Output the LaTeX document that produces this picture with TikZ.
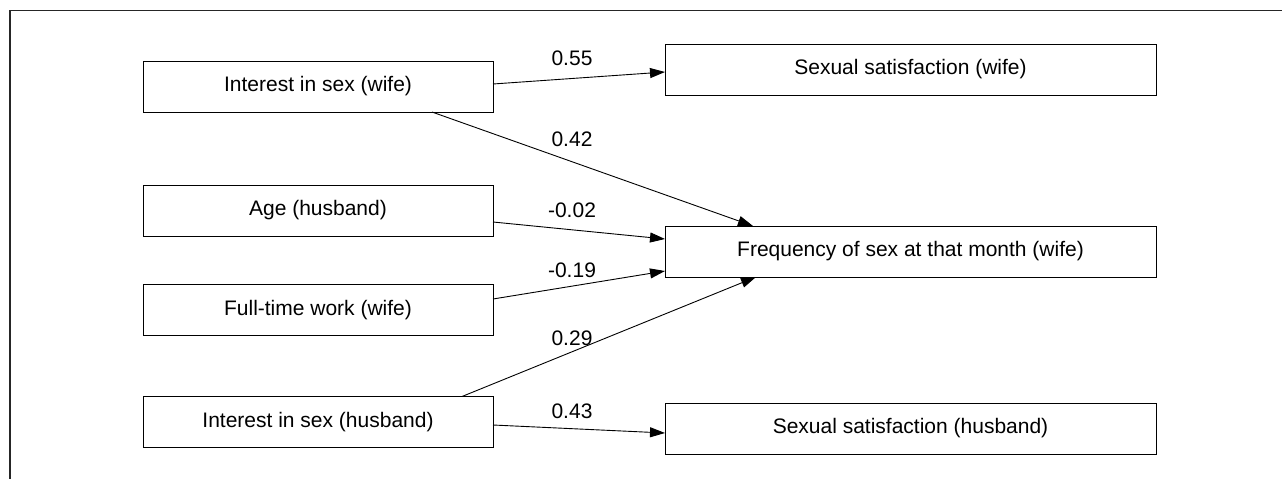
\documentclass[tikz,border=0pt]{standalone}
\usepackage{fontspec}
\setmainfont{Liberation Sans}
\usetikzlibrary{arrows.meta}
\begin{document}
\begin{tikzpicture}[x=1pt,y=-1pt,
  varbox/.style={draw=black, line width=1pt, inner sep=0pt, outer sep=0pt, minimum height=51pt, font=\fontsize{21}{25}\selectfont},
  leftbox/.style={varbox, minimum width=350pt},
  rightbox/.style={varbox, minimum width=491pt},
  path/.style={line width=0.9pt, -{Triangle[length=15pt,width=10pt]}},
  coef/.style={anchor=base, inner sep=0pt, font=\fontsize{21}{25}\selectfont}]
\useasboundingbox (0,0) rectangle (1282,479);
\coordinate (frtr) at (1282,10.5);
\coordinate (frtl) at (10,10.5);
\coordinate (frbl) at (10,479);
\draw[line width=1.5pt, black!85] (frtr) -- (frtl) -- (frbl);

\node[leftbox] (iw) at (318,86.5) {Interest in sex (wife)};
\node[leftbox] (age) at (318,210.5) {Age (husband)};
\node[leftbox] (ft) at (318,310) {Full-time work (wife)};
\node[leftbox] (ih) at (318,422) {Interest in sex (husband)};
\node[rightbox] (sw) at (910.5,69.5) {Sexual satisfaction (wife)};
\node[rightbox] (fr) at (910.5,251.5) {Frequency of sex at that month (wife)};
\node[rightbox] (sh) at (910.5,428.5) {Sexual satisfaction (husband)};

\draw[path] ([yshift=2.5pt]iw.east) -- ([yshift=-2.5pt]sw.west);
\draw[path] ([xshift=114pt]iw.south) -- ([xshift=-157.5pt]fr.north);
\draw[path] ([yshift=-11.5pt]age.east) -- ([yshift=12.5pt]fr.west);
\draw[path] ([yshift=11pt]ft.east) -- ([yshift=-19.5pt]fr.west);
\draw[path] ([xshift=144pt]ih.north) -- ([xshift=-154.5pt]fr.south);
\draw[path] ([yshift=-3pt]ih.east) -- ([yshift=-4.5pt]sh.west);

\node[coef] (c1) at (572,65.5) {0.55};
\node[coef] (c2) at (572,146.5) {0.42};
\node[coef] (c3) at (572,217.5) {-0.02};
\node[coef] (c4) at (572,277.5) {-0.19};
\node[coef] (c5) at (572,345.5) {0.29};
\node[coef] (c6) at (572,418.5) {0.43};
\end{tikzpicture}
\end{document}
